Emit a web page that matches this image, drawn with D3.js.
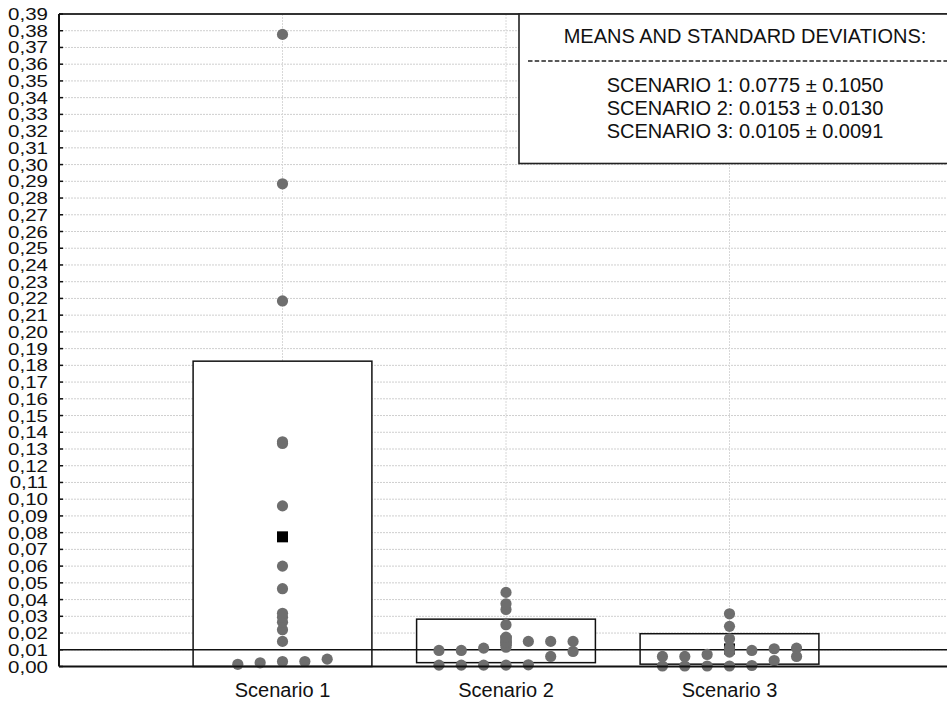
<!DOCTYPE html>
<html>
<head>
<meta charset="utf-8">
<script src="https://cdn.jsdelivr.net/npm/d3@7"></script>
<style>
  body { margin: 0; background: #fff; }
  svg { display: block; font-family: "Liberation Sans", Arial, sans-serif; }
</style>
</head>
<body>
<div id="chart"></div>
<script>
// categories and summary stats
const scenarios = ["Scenario 1", "Scenario 2", "Scenario 3"];
const means = [0.0775, 0.0153, 0.0105];
const sds = [0.1050, 0.0130, 0.0091];
const refLine = 0.01;

// raw observations per scenario (sorted) and the column they were stacked in
const s1Values = [0.0013, 0.0022, 0.0030, 0.0030, 0.0044, 0.0150, 0.0220, 0.0265, 0.0295, 0.0318,
                  0.0465, 0.0600, 0.0960, 0.1333, 0.1343, 0.2185, 0.2885, 0.3778];
const s1Col    = [-2, -1, 0, 1, 2, 0, 0, 0, 0, 0, 0, 0, 0, 0, 0, 0, 0, 0];
const s2Values = [0.0008, 0.0008, 0.0008, 0.0008, 0.0010, 0.0060, 0.0090, 0.0096, 0.0096, 0.0110,
                  0.0115, 0.0145, 0.0150, 0.0150, 0.0150, 0.0175, 0.0250, 0.0341, 0.0375, 0.0443];
const s2Col    = [-3, -2, -1, 0, 1, 2, 3, -3, -2, -1, 0, 0, 1, 2, 3, 0, 0, 0, 0, 0];
const s3Values = [0.0003, 0.0003, 0.0003, 0.0003, 0.0006, 0.0036, 0.0060, 0.0060, 0.0060, 0.0072,
                  0.0086, 0.0096, 0.0106, 0.0110, 0.0110, 0.0166, 0.0240, 0.0315];
const s3Col    = [-3, -2, -1, 0, 1, 2, 3, -3, -2, -1, 0, 1, 2, 3, 0, 0, 0, 0];

const yTicks = d3.range(0, 40).map(i => i / 100);
const legendTitle = "MEANS AND STANDARD DEVIATIONS:";
const legendLines = scenarios.map((s, i) =>
  s.toUpperCase() + ": " + means[i].toFixed(4) + " \u00b1 " + sds[i].toFixed(4));

const width = 947, height = 702;
const plotL = 59, plotT = 14, plotB = 666.5, plotR = 953;

const svg = d3.select("#chart").append("svg")
  .attr("width", width).attr("height", height);

const x = d3.scalePoint().domain(scenarios).range([plotL, plotR]).padding(1);
const step = x.step();
const col = d3.scaleLinear().domain([-1, 1]).range([-step / 10, step / 10]);
const y = d3.scaleLinear().domain([0, 0.39]).range([plotB, plotT]);

// grid
svg.append("g").selectAll("line").data(yTicks.slice(1)).join("line")
  .attr("x1", plotL).attr("x2", width)
  .attr("y1", d => y(d)).attr("y2", d => y(d))
  .attr("stroke", "#cfcfcf").attr("stroke-width", 1).attr("stroke-dasharray", "2,1");
svg.append("g").selectAll("line").data(scenarios).join("line")
  .attr("x1", d => x(d)).attr("x2", d => x(d))
  .attr("y1", plotT).attr("y2", plotB)
  .attr("stroke", "#d8d8d8").attr("stroke-width", 1).attr("stroke-dasharray", "2,1");

// mean +/- sd boxes
const boxW = step * 0.8;
svg.append("g").selectAll("rect").data(scenarios).join("rect")
  .attr("x", d => x(d) - boxW / 2)
  .attr("width", boxW)
  .attr("y", (d, i) => y(means[i] + sds[i]))
  .attr("height", (d, i) => y(Math.max(0, means[i] - sds[i])) - y(means[i] + sds[i]))
  .attr("fill", "#fff").attr("stroke", "#111").attr("stroke-width", 1.5);

// reference line
svg.append("line")
  .attr("x1", plotL).attr("x2", width)
  .attr("y1", y(refLine)).attr("y2", y(refLine))
  .attr("stroke", "#111").attr("stroke-width", 1.6);

// mean markers
svg.append("g").selectAll("rect").data(scenarios).join("rect")
  .attr("x", d => x(d) - 5.5).attr("y", (d, i) => y(means[i]) - 5.5)
  .attr("width", 11).attr("height", 11).attr("fill", "#000");

// points
const groups = [[s1Values, s1Col], [s2Values, s2Col], [s3Values, s3Col]];
groups.forEach(([vals, cols], gi) => {
  const pts = vals.map((v, i) => ({v, c: cols[i]}));
  svg.append("g").selectAll("circle").data(pts).join("circle")
    .attr("cx", d => x(scenarios[gi]) + col(d.c))
    .attr("cy", d => y(d.v))
    .attr("r", 5.6)
    .attr("fill", "#6e6e6e");
});

// frame
svg.append("line").attr("x1", plotL).attr("x2", width).attr("y1", plotT).attr("y2", plotT)
  .attr("stroke", "#333").attr("stroke-width", 2);
svg.append("line").attr("x1", plotL).attr("x2", width).attr("y1", plotB).attr("y2", plotB)
  .attr("stroke", "#111").attr("stroke-width", 2);
svg.append("line").attr("x1", plotL).attr("x2", plotL).attr("y1", plotT).attr("y2", plotB)
  .attr("stroke", "#111").attr("stroke-width", 2);

// y axis ticks + labels
const yAxis = svg.append("g");
yAxis.selectAll("line").data(yTicks).join("line")
  .attr("x1", plotL).attr("x2", plotL + 4)
  .attr("y1", d => y(d)).attr("y2", d => y(d))
  .attr("stroke", "#111").attr("stroke-width", 1.5);
yAxis.selectAll("text").data(yTicks).join("text")
  .attr("transform", d => `translate(48,${y(d) + 6}) scale(1,0.84)`)
  .attr("text-anchor", "end")
  .attr("font-size", 20.5)
  .attr("fill", "#111")
  .text(d => d3.format(".2f")(d).replace(".", ","));

// x labels
svg.append("g").selectAll("text").data(scenarios).join("text")
  .attr("x", d => x(d)).attr("y", 697)
  .attr("text-anchor", "middle").attr("font-size", 20).attr("fill", "#111")
  .text(d => d);

// legend box
const lg = svg.append("g");
const lgX = 519, lgCx = 745;
lg.append("rect").attr("x", lgX).attr("y", plotT).attr("width", 460).attr("height", 163.5 - plotT)
  .attr("fill", "#fff").attr("stroke", "#222").attr("stroke-width", 1.6);
lg.append("text").attr("x", lgCx).attr("y", 43).attr("text-anchor", "middle")
  .attr("font-size", 20).attr("fill", "#111").text(legendTitle);
lg.append("line").attr("x1", 528).attr("x2", width).attr("y1", 61).attr("y2", 61)
  .attr("stroke", "#222").attr("stroke-width", 1.5).attr("stroke-dasharray", "4.5,2.2");
lg.selectAll("text.row").data(legendLines).join("text").attr("class", "row")
  .attr("x", lgCx).attr("y", (d, i) => 91.5 + i * 23.4)
  .attr("text-anchor", "middle").attr("font-size", 20).attr("fill", "#111")
  .text(d => d);
</script>
</body>
</html>
